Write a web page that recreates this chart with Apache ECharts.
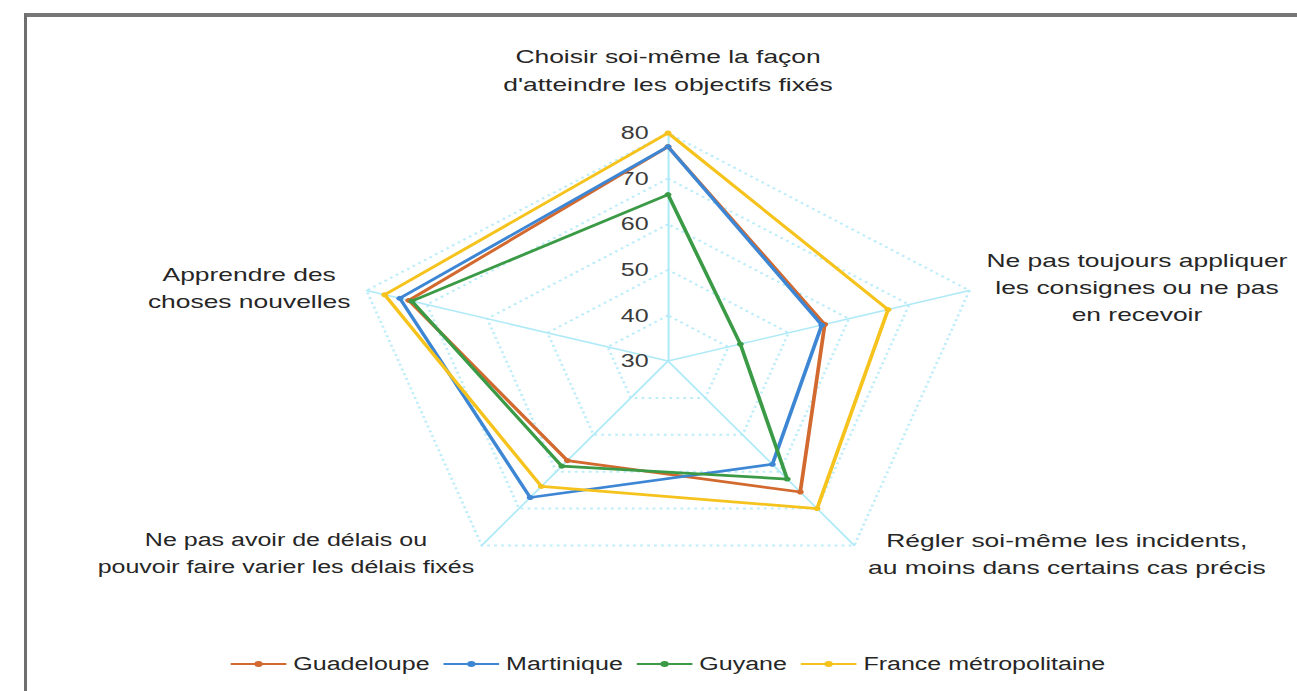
<!DOCTYPE html>
<html>
<head>
<meta charset="utf-8">
<script src="https://cdn.jsdelivr.net/npm/echarts@6/dist/echarts.min.js"></script>
<style>
  html, body { margin: 0; padding: 0; background: #fff; width: 1297px; height: 691px; overflow: hidden; }
  #chart { position: absolute; left: 0; top: 0; width: 933px; height: 691px; transform: scaleX(1.39); transform-origin: 0 0; }
  #frame { position: absolute; left: 24px; top: 13px; right: -10px; bottom: -10px;
           border-left: 3px solid #6e6e6e; border-top: 4px solid #767676; pointer-events: none; }
</style>
</head>
<body>
<div id="chart"></div>
<div id="frame"></div>
<script>
// Radar axes, listed counter-clockwise from the top
const axisNames = [
  "Choisir soi-même la façon\nd'atteindre les objectifs fixés",
  "Apprendre des\nchoses nouvelles",
  "Ne pas avoir de délais ou\npouvoir faire varier les délais fixés",
  "Régler soi-même les incidents,\nau moins dans certains cas précis",
  "Ne pas toujours appliquer\nles consignes ou ne pas\nen recevoir"
];
const regionNames = ['Guadeloupe', 'Martinique', 'Guyane', 'France métropolitaine'];
const guadeloupe   = [77, 73, 57, 65.5, 56];
const martinique   = [77, 74.5, 67, 58, 55.5];
const guyane       = [66.5, 72.5, 58.5, 62, 42];
const franceMetro  = [80, 77, 64, 70, 66.5];
const scaleMin = 30;
const scaleMax = 80;

const regionValues = [guadeloupe, martinique, guyane, franceMetro];
const regionColors = ['#d2692f', '#3d86d4', '#3a9a45', '#f6c21c'];

// label block width (for centred lines) per axis, keyed by axis index
const nameBlock = { 1: 'l', 2: 'bl', 3: 'br', 4: 'r' };
const FONT = '"Liberation Sans", Arial, sans-serif';
const TEXT = '#262626';
const blockStyle = (w, size) => ({ width: w, align: 'center', fontSize: size, lineHeight: 27, color: TEXT, fontFamily: FONT });

const chart = echarts.init(document.getElementById('chart'), null, { renderer: 'svg' });

chart.setOption({
  backgroundColor: '#ffffff',
  color: regionColors,
  textStyle: { fontFamily: FONT },
  legend: {
    data: regionNames,
    left: 166,
    top: 655,
    padding: 0,
    itemGap: 10,
    itemWidth: 40,
    itemHeight: 8,
    icon: 'path://M0,3L40,3L40,5L0,5Z M17,4A3,3 0 1,1 23,4A3,3 0 1,1 17,4Z',
    textStyle: { fontSize: 18, color: TEXT, fontFamily: FONT }
  },
  radar: {
    center: [480.6, 361],
    radius: 228,
    startAngle: 90,
    splitNumber: 5,
    shape: 'polygon',
    nameGap: 10,
    axisName: {
      color: TEXT,
      fontSize: 19,
      lineHeight: 28,
      fontFamily: FONT,
      formatter: function (name) {
        const idx = axisNames.indexOf(name);
        const key = nameBlock[idx];
        if (!key) return name;
        return name.split('\n').map(s => '{' + key + '|' + s + '}').join('\n');
      },
      rich: {
        l: blockStyle(150, 19),
        bl: blockStyle(270, 18),
        br: blockStyle(294, 19),
        r: blockStyle(222, 19)
      }
    },
    indicator: axisNames.map((n, i) => {
      const ind = { name: n, min: scaleMin, max: scaleMax };
      if (i === 0) {
        ind.nameGap = 35;
        ind.axisLabel = { show: true };
      }
      return ind;
    }),
    axisLine: { lineStyle: { color: '#b0eaf8', width: 1.5 } },
    splitLine: { lineStyle: { color: '#bdedf9', width: 2, type: [2, 3] } },
    splitArea: { show: false },
    axisTick: { show: false },
    axisLabel: {
      show: false,
      margin: 14,
      fontSize: 18,
      color: '#3a3a3a',
      fontFamily: FONT
    }
  },
  series: [{
    type: 'radar',
    symbol: 'circle',
    symbolSize: 5,
    lineStyle: { width: 2.7 },
    data: regionNames.map((name, i) => ({
      name: name,
      value: regionValues[i],
      lineStyle: { color: regionColors[i], width: 2.7 },
      itemStyle: { color: regionColors[i] }
    }))
  }]
});
</script>
</body>
</html>
